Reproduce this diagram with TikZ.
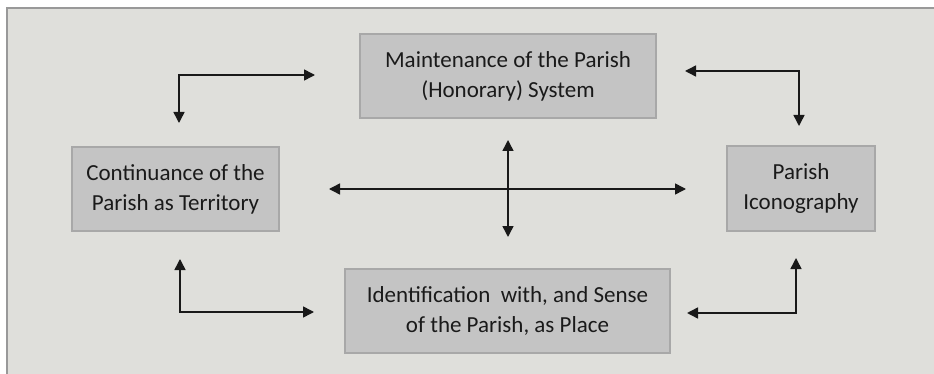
\documentclass[tikz,border=0pt]{standalone}
\usepackage{fontspec}
\setmainfont{Carlito}
\usetikzlibrary{arrows.meta}
\definecolor{bgc}{HTML}{DFDFDB}
\definecolor{boxc}{HTML}{C4C4C4}
\definecolor{boxl}{HTML}{A8A8A8}
\definecolor{framec}{HTML}{999999}
\definecolor{txt}{HTML}{1A1A1A}
\tikzset{
  box/.style={draw=boxl, line width=1.2pt, fill=boxc, rectangle, align=center,
    text=txt, font=\fontsize{23}{30}\selectfont, inner sep=0pt},
  conn/.style={draw=black!90, line width=1.5pt,
    {Triangle[length=11pt,width=11pt]}-{Triangle[length=11pt,width=11pt]}},
}
\begin{document}
\begin{tikzpicture}[x=1pt,y=-1pt]
\useasboundingbox (0,0) rectangle (934,374);
\fill[white] (0,0) rectangle (934,374);
\fill[bgc] (7,8) rectangle (934,374);
\draw[framec, line width=1.5pt] (7,374) -- (7,8) -- (934,8);

\node[box, minimum width=296pt, minimum height=84pt] (top) at (508,76)
  {Maintenance of the Parish\\(Honorary) System};
\node[box, minimum width=207pt, minimum height=84pt] (left) at (175.5,189)
  {Continuance of the\\Parish as Territory};
\node[box, minimum width=148pt, minimum height=85pt] (right) at (801,188.5)
  {Parish\\Iconography};
\node[box, minimum width=325pt, minimum height=84pt] (bottom) at (507.5,311)
  {Identification\ \ with, and Sense\\of the Parish, as Place};

\coordinate (tl1) at (179,123);
\coordinate (tl2) at (315,75);
\coordinate (tr1) at (685,71);
\coordinate (tr2) at (799,126);
\coordinate (bl1) at (180,259);
\coordinate (bl2) at (314,312);
\coordinate (br1) at (687,313);
\coordinate (br2) at (796,258);
\coordinate (ch1) at (329,189);
\coordinate (ch2) at (686,189);
\coordinate (cv1) at (508,140);
\coordinate (cv2) at (508,237);

\draw[conn] (tl1) |- (tl2);
\draw[conn] (tr1) -| (tr2);
\draw[conn] (bl1) |- (bl2);
\draw[conn] (br1) -| (br2);
\draw[conn] (ch1) -- (ch2);
\draw[conn] (cv1) -- (cv2);
\end{tikzpicture}
\end{document}
